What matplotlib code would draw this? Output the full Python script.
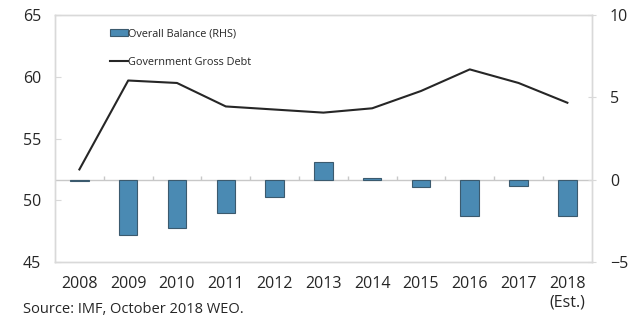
import matplotlib
matplotlib.use("Agg")
import matplotlib.pyplot as plt
from matplotlib.patches import Patch
from matplotlib.lines import Line2D

plt.rcParams['font.family'] = ['Open Sans', 'DejaVu Sans']

years = ["2008", "2009", "2010", "2011", "2012", "2013", "2014",
         "2015", "2016", "2017", "2018\n(Est.)"]
gross_debt = [52.5, 59.7, 59.5, 57.6, 57.35, 57.1, 57.45, 58.85, 60.6, 59.5, 57.9]
overall_balance = [-0.05, -3.35, -2.93, -2.02, -1.07, 1.09, 0.1, -0.47, -2.18, -0.38, -2.22]
left_ticks = [45, 50, 55, 60, 65]
right_ticks = [-5, 0, 5, 10]

bar_color = "#4a8ab3"
bar_edge = "#3b5a6e"
spine_color = "#d9d9d9"
text_color = "#262626"

fig = plt.figure(figsize=(6.3, 3.2), dpi=100)
ax = fig.add_axes([0.0873, 0.181, 0.852, 0.772])
ax2 = ax.twinx()

x = list(range(len(years)))

# balance bars on the right-hand scale, drawn behind the debt line
ax2.bar(x, overall_balance, width=0.38, color=bar_color, edgecolor=bar_edge,
        linewidth=0.8, zorder=2)
ax2.axhline(0, color="#c8c8c8", lw=1.0, zorder=1)
# category separator ticks sitting on the zero line
ax2.vlines([i + 0.5 for i in x[:-1]], 0, 0.25, color="#c8c8c8", lw=1.0, zorder=1)
ax2.set_ylim(-5, 10)
ax2.set_yticks(right_ticks)

ax.plot(x, gross_debt, color=text_color, lw=1.5, zorder=3)
ax.set_ylim(45, 65)
ax.set_yticks(left_ticks)
ax.set_xlim(-0.5, len(years) - 0.5)
ax.set_xticks(x)
ax.set_xticklabels(years)

ax.set_zorder(ax2.get_zorder() + 1)
ax.patch.set_visible(False)

for a in (ax, ax2):
    for s in a.spines.values():
        s.set_color(spine_color)
        s.set_linewidth(1.0)

ax.tick_params(axis='x', length=0, labelsize=11.5, colors=text_color, pad=10)
ax.tick_params(axis='y', direction='in', length=4, color=spine_color,
               labelsize=11.5, labelcolor=text_color, pad=10)
ax2.tick_params(axis='y', direction='inout', length=6, color=spine_color,
                labelsize=11.5, labelcolor=text_color, pad=10)

handles = [Patch(facecolor=bar_color, edgecolor=bar_edge, linewidth=0.8),
           Line2D([0], [0], color=text_color, lw=1.5)]
ax.legend(handles, ["Overall Balance (RHS)", "Government Gross Debt"],
          loc="upper left", bbox_to_anchor=(0.085, 0.985), frameon=False,
          fontsize=7.8, labelspacing=1.6, handlelength=1.6, handletextpad=0.0,
          handleheight=0.6, labelcolor=text_color)

fig.text(0.037, 0.008, "Source: IMF, October 2018 WEO.", fontsize=10.5,
         color=text_color, ha="left", va="bottom")

fig.savefig("out.png", dpi=100)
